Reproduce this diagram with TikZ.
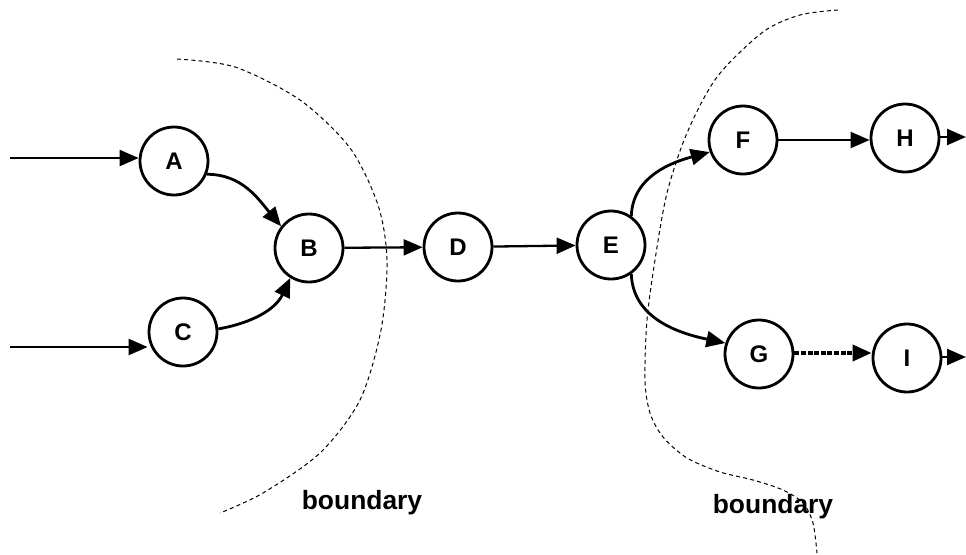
\documentclass[tikz,border=0pt]{standalone}
\usepackage{fontspec}
\setmainfont{Liberation Sans}
\usetikzlibrary{arrows.meta}
\tikzset{state/.style = {draw, circle, line width = 1.4pt, minimum size = 34pt, inner sep = 0,
    font = \bfseries\fontsize{12}{14}\selectfont}}
\tikzset{link/.style = {-{Triangle[length = 9.5pt, width = 8pt]}, line width = 1.15pt}}
\tikzset{curvelink/.style = {link, line width = 1.4pt}}
\tikzset{bound/.style = {dash pattern = on 2pt off 1.6pt, line width = 0.5pt}}
\tikzset{tag/.style = {font = \bfseries\fontsize{13.2}{15}\selectfont}}

\begin{document}
\begin{tikzpicture}[x=0.5pt, y=-0.5pt]
    \useasboundingbox (0,0) rectangle (966,554);
    % boundaries
    \draw [bound] plot [smooth] coordinates {(177,59) (235,67) (300,100) (350,148) (378,205)
      (387,260) (381,330) (360,400) (320,453) (263,493) (220,513)};
    \draw [bound] plot [smooth] coordinates {(838,10) (800,15) (763,32) (717,77) (687,133)
      (667,193) (655,260) (647,320) (645,380) (650,413) (663,437) (687,458) (720,472)
      (753,480) (783,490) (803,503) (813,523) (817,553)};
    \node [tag] (tagL) at (362,503) {boundary};
    \node [tag] (tagR) at (773,507) {boundary};
    % states
    \node [state] (A) at (174,161) {A};
    \node [state] (B) at (309,248) {B};
    \node [state] (C) at (183,332) {C};
    \node [state] (D) at (458,247) {D};
    \node [state] (E) at (611,245) {E};
    \node [state] (F) at (743,140) {F};
    \node [state] (G) at (759,354) {G};
    \node [state] (H) at (905,138) {H};
    \node [state] (I) at (907,358) {I};
    \coordinate (inA) at (10,158);
    \coordinate (inC) at (10,347);
    \coordinate (outH) at (966,137);
    \coordinate (outI) at (966,357);
    % links
    \draw [link] (inA) -- (A.west |- inA);
    \draw [link] (inC) -- (C.west |- inC);
    \draw [curvelink] (A.-22) to [out=0, in=130] (B.142);
    \draw [curvelink] (C.5) to [out=10, in=245] (B.238);
    \draw [link] (B) -- (D);
    \draw [link] (D) -- (E);
    \draw [curvelink] (E.55) to [out=88, in=195] (F.200);
    \draw [curvelink] (E.-55) to [out=-88, in=168] (G.162);
    \draw [link] (F.east) -- (H.west |- F.east);
    \draw [link, line width = 1.8pt, dash pattern = on 2.5pt off 0.8pt] (G.east |- 0,353) -- (I.west |- 0,353);
    \draw [link] (H.east |- outH) -- (outH);
    \draw [link] (I.east |- outI) -- (outI);
  \end{tikzpicture}
\end{document}
